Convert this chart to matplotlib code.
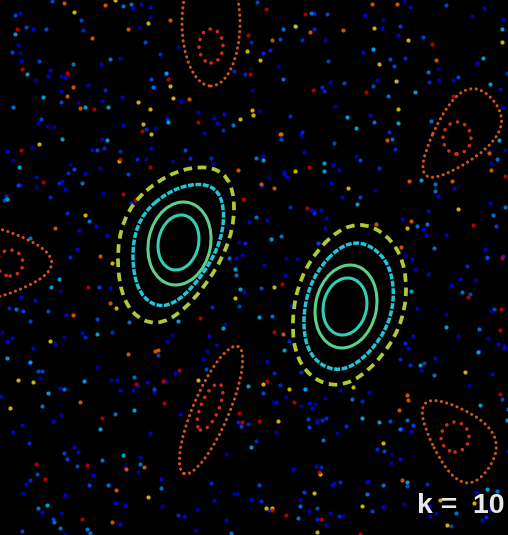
import numpy as np
import matplotlib
matplotlib.use("Agg")
import matplotlib.pyplot as plt
from matplotlib.patches import Ellipse, PathPatch
from matplotlib.path import Path

# ---------------------------------------------------------------
# Phase-space window (display units) and kick strength
# ---------------------------------------------------------------
WIN_W, WIN_H = 5.08, 5.35
k = 10.0

# Chaotic sea: standard-map trajectories (start angle, start momentum,
# colour level on the jet scale, number of iterations)
sea_theta0 = [0.31, 1.27, 2.05, 2.88, 3.61, 4.42, 5.13, 5.86, 0.93, 4.01]
sea_p0     = [5.71, 0.44, 3.92, 1.66, 4.83, 2.37, 0.98, 3.15, 2.71, 5.29]
sea_level  = [0.06, 0.10, 0.13, 0.17, 0.21, 0.26, 0.32, 0.67, 0.80, 0.92]
sea_steps  = [110, 105, 100, 95, 90, 75, 65, 65, 55, 60]

# Central island pair, boxy invariant curves: control corners (x, y)
box_x = [
    [1.76, 2.34, 2.34, 1.68, 1.19, 1.17],            # left island, outer
    [1.782, 2.235, 2.235, 1.72, 1.338, 1.322],       # left island, middle
    [3.52, 4.06, 4.06, 3.45, 2.91, 2.95],            # right island, outer
    [3.507, 3.933, 3.933, 3.451, 3.025, 3.056],      # right island, middle
]
box_y = [
    [3.69, 3.66, 2.87, 2.03, 2.27, 3.20],
    [3.516, 3.493, 2.877, 2.221, 2.409, 3.134],
    [3.21, 2.87, 2.05, 1.40, 1.70, 2.60],
    [3.006, 2.737, 2.09, 1.576, 1.813, 2.524],
]
box_kind = ["outer", "mid", "outer", "mid"]

# Central island pair, inner elliptic curves
# (centre x, centre y, semi-major, semi-minor, tilt from vertical in degrees)
isl_cx   = [1.795, 1.785, 3.46, 3.45]
isl_cy   = [2.915, 2.925, 2.285, 2.285]
isl_a    = [0.419, 0.278, 0.419, 0.288]
isl_b    = [0.310, 0.201, 0.304, 0.216]
isl_tilt = [12, 12, 12, 12]
isl_kind = ["inner1", "inner2", "inner1", "inner2"]

# Secondary (orange) island chain: elongated members
chain_cx   = [2.11, 2.11]
chain_cy   = [5.12, 1.25]
chain_a    = [0.63, 0.69]
chain_b    = [0.29, 0.18]
chain_tilt = [0, 23]

# Secondary island chain: triangular members (control corners)
tri_x = [[4.63, 5.21, 4.03], [4.03, 5.14, 4.62], [-0.60, 0.89, -0.60]]
tri_y = [[4.68, 4.04, 3.35], [1.52, 1.03, 0.29], [3.30, 2.72, 2.15]]

# Inner orbits of the secondary islands (centre x, centre y, semi-axes, tilt)
core_cx   = [2.11, 2.10, 4.57, 4.55, 0.10]
core_cy   = [4.89, 1.28, 3.97, 0.98, 2.72]
core_a    = [0.17, 0.25, 0.16, 0.15, 0.13]
core_b    = [0.12, 0.09, 0.14, 0.14, 0.13]
core_tilt = [0, 23, 0, 0, 0]

STYLE = {
    "outer":  dict(color="#aecb35", lw=2.7, ls=(0, (2.3, 1.5))),
    "mid":    dict(color="#1fc6d6", lw=2.5, ls=(0, (1.7, 0.45))),
    "inner1": dict(color="#5ccf8c", lw=2.2, ls="-"),
    "inner2": dict(color="#33cdb4", lw=2.2, ls="-"),
}
ORANGE = "#d75514"
ORANGE_CORE = "#c8320f"


def smooth_loop(xs, ys):
    """Closed quadratic-spline curve through the mid-points of a control polygon."""
    pts = np.column_stack([xs, ys])
    n = len(pts)
    mids = [(pts[i] + pts[(i + 1) % n]) / 2 for i in range(n)]
    verts = [mids[-1]]
    codes = [Path.MOVETO]
    for i in range(n):
        verts += [pts[i], mids[i]]
        codes += [Path.CURVE3, Path.CURVE3]
    verts.append(verts[0])
    codes.append(Path.CLOSEPOLY)
    return Path(verts, codes)


fig = plt.figure(figsize=(5.08, 5.35), dpi=100, facecolor="black")
ax = fig.add_axes([0, 0, 1, 1])
ax.set_facecolor("black")
ax.set_xlim(0, WIN_W)
ax.set_ylim(0, WIN_H)
ax.axis("off")

blockers = []
patches = []

for xs, ys, kind in zip(box_x, box_y, box_kind):
    st = STYLE[kind]
    path = smooth_loop(xs, ys)
    patches.append(PathPatch(path, fill=False, edgecolor=st["color"],
                             linewidth=st["lw"], linestyle=st["ls"]))
    if kind == "outer":
        blockers.append(path)

for cx, cy, a, b, t, kind in zip(isl_cx, isl_cy, isl_a, isl_b, isl_tilt, isl_kind):
    st = STYLE[kind]
    patches.append(Ellipse((cx, cy), 2 * b, 2 * a, angle=-t, fill=False,
                           edgecolor=st["color"], linewidth=st["lw"],
                           linestyle=st["ls"]))

for cx, cy, a, b, t in zip(chain_cx, chain_cy, chain_a, chain_b, chain_tilt):
    e = Ellipse((cx, cy), 2 * b, 2 * a, angle=-t, fill=False,
                edgecolor=ORANGE, linewidth=2.2, linestyle=(0, (0.05, 1.75)),
                capstyle="round")
    patches.append(e)
    blockers.append(e.get_patch_transform().transform_path(e.get_path()))

for xs, ys in zip(tri_x, tri_y):
    path = smooth_loop(xs, ys)
    patches.append(PathPatch(path, fill=False, edgecolor=ORANGE, linewidth=2.2,
                             linestyle=(0, (0.05, 1.75)), capstyle="round"))
    blockers.append(path)

for cx, cy, a, b, t in zip(core_cx, core_cy, core_a, core_b, core_tilt):
    patches.append(Ellipse((cx, cy), 2 * b, 2 * a, angle=-t, fill=False,
                           edgecolor=ORANGE_CORE, linewidth=2.6,
                           linestyle=(0, (0.05, 2.1)), capstyle="round"))

# ---- chaotic sea from the kicked-rotor (standard) map
cmap = matplotlib.colormaps["jet"]
for th, pp, lev, n in zip(sea_theta0, sea_p0, sea_level, sea_steps):
    xs, ys = [], []
    for _ in range(n):
        pp = (pp + k * np.sin(th)) % (2 * np.pi)
        th = (th + pp) % (2 * np.pi)
        xs.append(th / (2 * np.pi) * WIN_W)
        ys.append(pp / (2 * np.pi) * WIN_H)
    pts = np.column_stack([xs, ys])
    keep = np.ones(len(pts), bool)
    for bp in blockers:
        keep &= ~bp.contains_points(pts, radius=0.08) & ~bp.contains_points(pts, radius=-0.08)
    ax.scatter(pts[keep, 0], pts[keep, 1], s=9, marker="o", linewidths=0,
               color=cmap(lev), alpha=0.8, zorder=2)

for p in patches:
    p.set_zorder(3)
    ax.add_patch(p)

ax.text(4.17, 0.22, f"k =  {k:.0f}", color="#e8e8e8", fontsize=20.5,
        fontweight="bold", family=["Liberation Sans", "DejaVu Sans"],
        ha="left", va="baseline", zorder=4)

fig.savefig("out.png", dpi=100, facecolor="black")
